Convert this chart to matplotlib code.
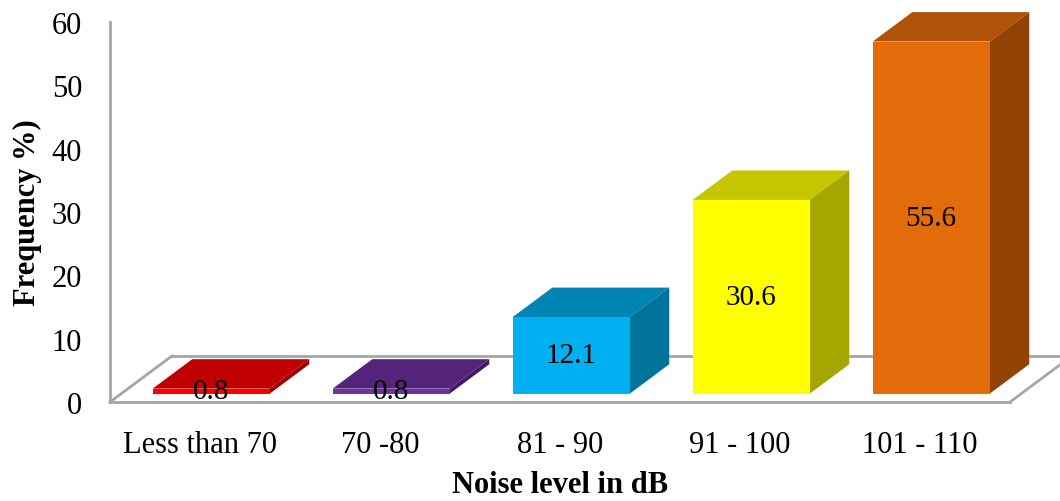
import matplotlib.pyplot as plt
from matplotlib.patches import Polygon

categories = ["Less than 70", "70 -80", "81 - 90", "91 - 100", "101 - 110"]
freq = [0.8, 0.8, 12.1, 30.6, 55.6]
labels = ["0.8", "0.8", "12.1", "30.6", "55.6"]

# front / top / side shades for each bar
front_col = ["#FF0000", "#7030A0", "#00B0F0", "#FFFF00", "#E36C0A"]
top_col = ["#C00000", "#55237A", "#0084B4", "#C6C600", "#B05208"]
side_col = ["#A00000", "#45196A", "#00739D", "#A6A600", "#944307"]

plt.rcParams['font.family'] = ['Liberation Serif', 'DejaVu Serif']

fig = plt.figure(figsize=(10.6, 5.02), dpi=100)
ax = fig.add_axes([110 / 1060, 99 / 502, 900 / 1060, 380 / 502])
ax.set_xlim(-0.5, 4.5)
ax.set_ylim(0, 60)

# floor depth in data units, and where the bars sit inside it
DX, DY = 0.344, 7.27
d0, d1 = 0.18, 0.82
w = 0.65
grey = "#A6A6A6"

# floor outline
ax.plot([-0.5, -0.5 + DX], [0, DY], color=grey, lw=2, clip_on=False, zorder=1)
ax.plot([-0.5 + DX, 4.5 + DX], [DY, DY], color=grey, lw=2, clip_on=False, zorder=1)
ax.plot([4.5, 4.5 + DX], [0, DY], color=grey, lw=2, clip_on=False, zorder=1)

x = range(len(categories))
x0 = [i + d0 * DX for i in x]
base = d0 * DY
ax.bar(x0, freq, width=w, bottom=base, color=front_col, zorder=3, clip_on=False)

dd = d1 - d0
for i, v in enumerate(freq):
    xl = x0[i] - w / 2
    xr = x0[i] + w / 2
    top = base + v
    ox, oy = dd * DX, dd * DY
    ax.add_patch(Polygon([(xl, top), (xr, top), (xr + ox, top + oy), (xl + ox, top + oy)],
                         closed=True, fc=top_col[i], ec='none', zorder=2.5, clip_on=False))
    ax.add_patch(Polygon([(xr, base), (xr, top), (xr + ox, top + oy), (xr + ox, base + oy)],
                         closed=True, fc=side_col[i], ec='none', zorder=2.5, clip_on=False))
    ax.text(x0[i], base + v / 2, labels[i], ha='center', va='center', fontsize=21, zorder=5)

for s in ['top', 'right']:
    ax.spines[s].set_visible(False)
for s in ['left', 'bottom']:
    ax.spines[s].set_color(grey)
    ax.spines[s].set_linewidth(2)

ax.set_xticks(list(x))
ax.set_xticklabels(categories, fontsize=22)
ax.set_yticks(range(0, 61, 10))
ax.tick_params(axis='x', length=0, pad=20)
ax.tick_params(axis='y', length=0, pad=20, labelsize=22)

ax.set_xlabel("Noise level in dB", fontsize=22, fontweight='bold', labelpad=8)
ax.set_ylabel("Frequency %)", fontsize=22, fontweight='bold', labelpad=7)

fig.savefig("out.png", dpi=100)
